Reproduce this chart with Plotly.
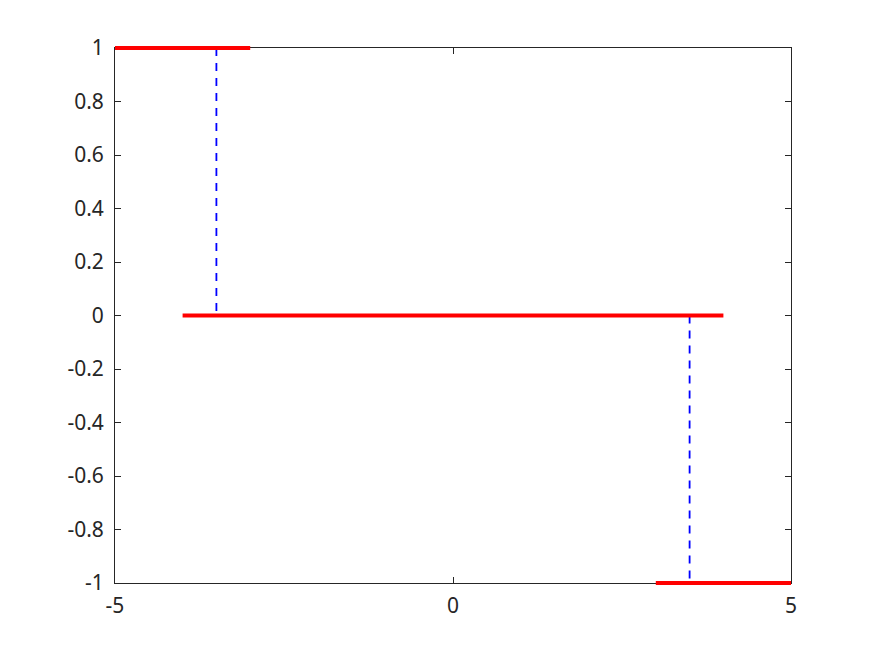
import plotly.graph_objects as go

# horizontal red segments: start, end, level
seg_start = [-5, -4, 3]
seg_end = [-3, 4, 5]
seg_level = [1, 0, -1]

# blue dashed jumps: x position, from, to
jump_x = [-3.5, 3.5]
jump_from = [1, 0]
jump_to = [0, -1]

y_ticks = [-1, -0.8, -0.6, -0.4, -0.2, 0, 0.2, 0.4, 0.6, 0.8, 1]
y_labels = ["-1", "-0.8", "-0.6", "-0.4", "-0.2", "0", "0.2", "0.4", "0.6", "0.8", "1"]
x_ticks = [-5, 0, 5]
x_labels = ["-5", "0", "5"]

red_x, red_y = [], []
for a, b, lv in zip(seg_start, seg_end, seg_level):
    red_x += [a, b, None]
    red_y += [lv, lv, None]

blue_x, blue_y = [], []
for x, y0, y1 in zip(jump_x, jump_from, jump_to):
    blue_x += [x, x, None]
    blue_y += [y0, y1, None]

# the data sits on a second, slightly taller axis pair so the thick lines at
# y = +-1 are not clipped by the frame
plot_h = 541
pad_px = 3
pad = 2 / (plot_h - 2 * pad_px) * pad_px

fig = go.Figure()
# empty trace so the frame axes get drawn
fig.add_trace(go.Scatter(x=[None], y=[None], mode="lines", showlegend=False,
                         hoverinfo="skip"))
fig.add_trace(go.Scatter(x=blue_x, y=blue_y, mode="lines", xaxis="x2", yaxis="y2",
                         line={"color": "#0000ff", "width": 1.8, "dash": "8px,7px"},
                         showlegend=False, hoverinfo="skip"))
fig.add_trace(go.Scatter(x=red_x, y=red_y, mode="lines", xaxis="x2", yaxis="y2",
                         line={"color": "#ff0000", "width": 4},
                         showlegend=False))

axis_common = dict(
    showgrid=False, zeroline=False, showline=True, mirror="ticks",
    linecolor="#262626", linewidth=1, ticks="inside", ticklen=6,
    tickcolor="#262626", tickfont={"size": 21, "color": "#262626"},
)
fig.update_layout(
    width=875, height=656,
    margin={"l": 107, "r": 92, "t": 40 - pad_px, "b": 81 - pad_px},
    paper_bgcolor="white", plot_bgcolor="rgba(0,0,0,0)",
    font={"family": "Noto Sans, sans-serif"},
    xaxis=dict(range=[-5, 5], tickvals=x_ticks, ticktext=x_labels,
               ticklabelstandoff=4, anchor="y", domain=[0, 1], **axis_common),
    yaxis=dict(range=[-1, 1], tickvals=y_ticks, ticktext=y_labels,
               ticklabelstandoff=6, anchor="x",
               domain=[pad_px / plot_h, 1 - pad_px / plot_h], **axis_common),
    xaxis2=dict(range=[-5, 5], anchor="y2", domain=[0, 1], visible=False),
    yaxis2=dict(range=[-1 - pad, 1 + pad], anchor="x2", domain=[0, 1], visible=False),
)

fig.write_html("out.html")
